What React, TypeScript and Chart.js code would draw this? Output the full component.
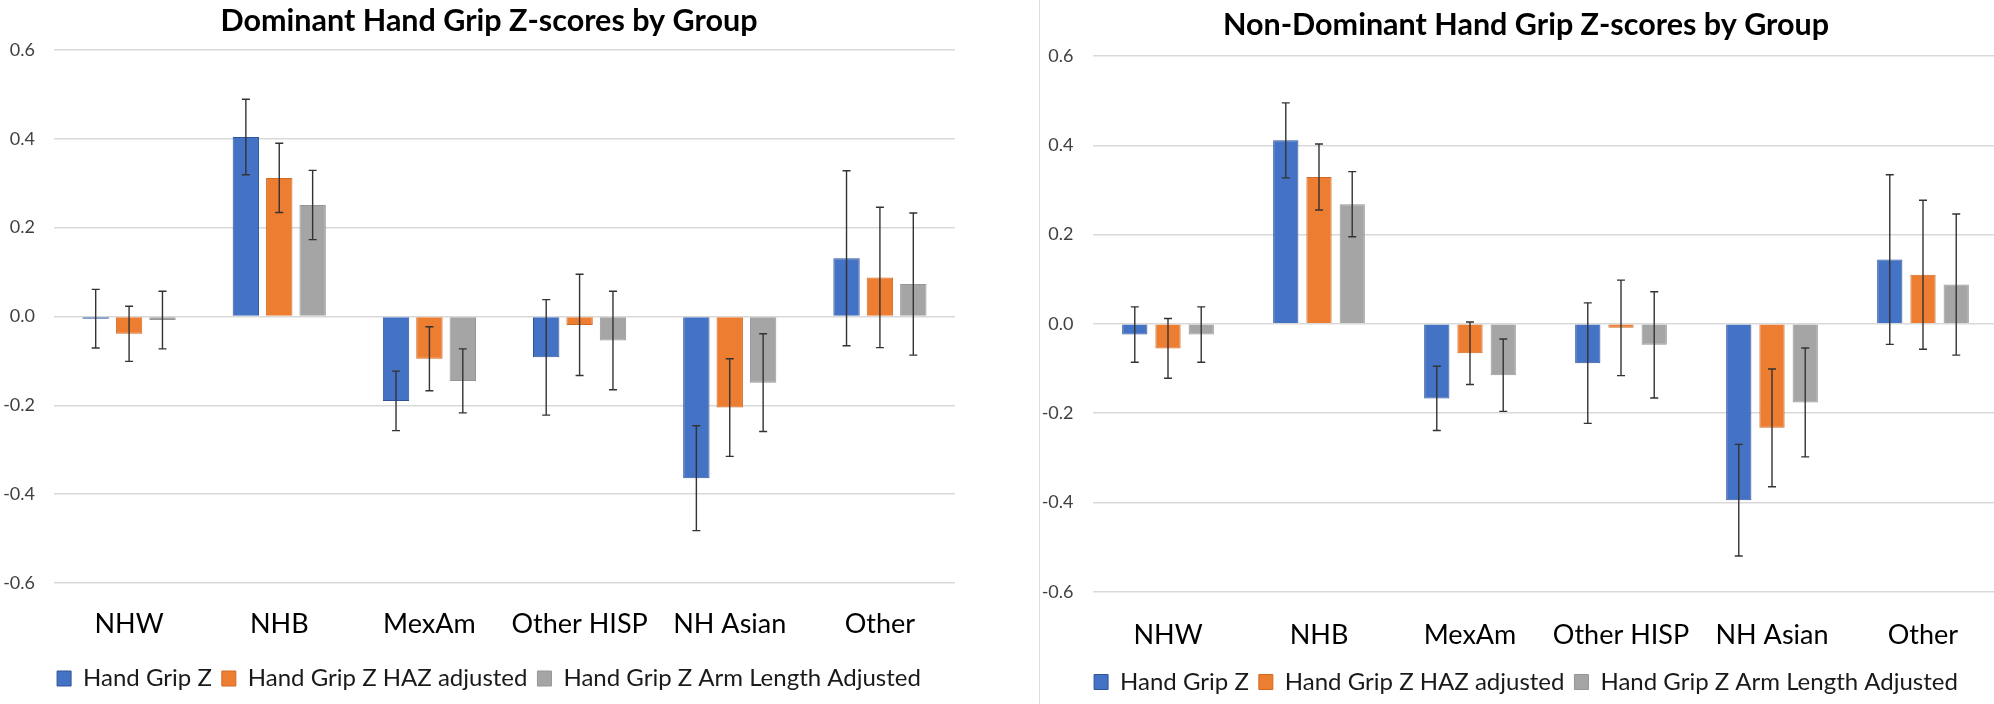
import React, { useEffect, useRef } from "react";
import { Chart, registerables } from "chart.js";

Chart.register(...registerables);

// ---------- data ----------
const categories = ["NHW", "NHB", "MexAm", "Other HISP", "NH Asian", "Other"];
const seriesLabels = ["Hand Grip Z", "Hand Grip Z HAZ adjusted", "Hand Grip Z Arm Length Adjusted"];
const yTicks = [-0.6, -0.4, -0.2, 0, 0.2, 0.4, 0.6];

// Dominant hand
const domGrip = [-0.005, 0.404, -0.19, -0.092, -0.364, 0.131];
const domGripErr = [0.066, 0.085, 0.067, 0.13, 0.118, 0.197];
const domHaz = [-0.039, 0.312, -0.095, -0.019, -0.205, 0.088];
const domHazErr = [0.062, 0.078, 0.072, 0.114, 0.11, 0.158];
const domArm = [-0.008, 0.251, -0.145, -0.054, -0.149, 0.073];
const domArmErr = [0.065, 0.078, 0.072, 0.111, 0.11, 0.16];

// Non-dominant hand
const ndGrip = [-0.024, 0.411, -0.167, -0.088, -0.395, 0.144];
const ndGripErr = [0.062, 0.084, 0.072, 0.135, 0.125, 0.19];
const ndHaz = [-0.055, 0.329, -0.066, -0.009, -0.233, 0.11];
const ndHazErr = [0.067, 0.074, 0.07, 0.107, 0.132, 0.167];
const ndArm = [-0.024, 0.268, -0.115, -0.047, -0.176, 0.088];
const ndArmErr = [0.062, 0.073, 0.081, 0.119, 0.122, 0.158];

// ---------- styles ----------
const seriesColors = ["#4472C4", "#ED7D31", "#A5A5A5"];
const seriesBorders = ["#2F5597", "#D06A22", "#969696"];
const FONT = "Lato";
Chart.defaults.font.family = FONT;

const errorBarPlugin = {
  id: "errorBars",
  afterDatasetsDraw(chart: any) {
    const ctx = chart.ctx;
    const yScale = chart.scales.y;
    chart.data.datasets.forEach((ds: any, i: number) => {
      const meta = chart.getDatasetMeta(i);
      if (meta.hidden || !ds.errors) return;
      meta.data.forEach((bar: any, j: number) => {
        const v = ds.data[j];
        const e = ds.errors[j];
        const x = bar.x;
        const yTop = yScale.getPixelForValue(v + e);
        const yBot = yScale.getPixelForValue(v - e);
        ctx.save();
        ctx.strokeStyle = "#333333";
        ctx.lineWidth = 1.4;
        ctx.beginPath();
        ctx.moveTo(x, yTop);
        ctx.lineTo(x, yBot);
        ctx.moveTo(x - 4, yTop);
        ctx.lineTo(x + 4, yTop);
        ctx.moveTo(x - 4, yBot);
        ctx.lineTo(x + 4, yBot);
        ctx.stroke();
        ctx.restore();
      });
    });
  },
};

type Layout = {
  titlePadTop: number;
  titlePadBottom: number;
  yWidth: number;
  rightWidth: number;
  xHeight: number;
  xPad: number;
  bottomPad: number;
  catPct: number;
  barPct: number;
};

function makeConfig(title: string, values: number[][], errors: number[][], L: Layout): any {
  return {
    type: "bar",
    data: {
      labels: categories,
      datasets: values.map((vals, i) => ({
        label: seriesLabels[i],
        data: vals,
        errors: errors[i],
        backgroundColor: seriesColors[i],
        borderColor: seriesBorders[i],
        borderWidth: 1,
        categoryPercentage: L.catPct,
        barPercentage: L.barPct,
      })),
    },
    options: {
      responsive: false,
      animation: false,
      devicePixelRatio: 1,
      layout: { padding: { left: 0, right: 0, top: 0, bottom: L.bottomPad } },
      plugins: {
        title: {
          display: true,
          text: title,
          color: "#000000",
          font: { family: FONT, size: 30.5, weight: "bold" },
          padding: { top: L.titlePadTop, bottom: L.titlePadBottom },
        },
        legend: {
          display: true,
          position: "bottom",
          labels: {
            boxWidth: 14,
            boxHeight: 15,
            padding: 10,
            color: "#1a1a1a",
            font: { family: FONT, size: 24 },
          },
        },
        tooltip: { enabled: false },
      },
      scales: {
        x: {
          type: "category",
          grid: { display: false },
          border: { display: false },
          ticks: { color: "#000000", font: { family: FONT, size: 27 }, padding: L.xPad, maxRotation: 0 },
          afterFit: (s: any) => {
            s.height = L.xHeight;
          },
        },
        y: {
          type: "linear",
          min: -0.6,
          max: 0.6,
          grid: { color: "#D9D9D9", lineWidth: 1.5, drawTicks: false },
          border: { display: false },
          afterBuildTicks: (s: any) => {
            s.ticks = yTicks.map((v) => ({ value: v }));
          },
          ticks: {
            color: "#404040",
            font: { family: FONT, size: 18 },
            padding: 19,
            callback: (v: any) => (Math.abs(Number(v)) < 1e-9 ? "0.0" : Number(v).toFixed(1)),
          },
          afterFit: (s: any) => {
            s.width = L.yWidth;
          },
        },
        y2: {
          type: "linear",
          position: "right",
          display: true,
          grid: { display: false, drawTicks: false },
          border: { display: false },
          ticks: { display: false },
          afterFit: (s: any) => {
            s.width = L.rightWidth;
          },
        },
      },
    },
    plugins: [errorBarPlugin],
  };
}

function ChartBox({ left, width, config }: { left: number; width: number; config: any }) {
  const ref = useRef<HTMLCanvasElement | null>(null);
  useEffect(() => {
    if (!ref.current) return;
    const chart = new Chart(ref.current, config);
    return () => chart.destroy();
  }, []);
  return (
    <canvas
      ref={ref}
      width={width}
      height={704}
      style={{ position: "absolute", left, top: 0, width, height: 704 }}
    />
  );
}

const leftConfig = makeConfig(
  "Dominant Hand Grip Z-scores by Group",
  [domGrip, domHaz, domArm],
  [domGripErr, domHazErr, domArmErr],
  {
    titlePadTop: 2.7,
    titlePadBottom: 10.7,
    yWidth: 54,
    rightWidth: 23,
    xHeight: 73.5,
    xPad: 17.5,
    bottomPad: 3.5,
    catPct: 0.667,
    barPct: 0.79,
  }
);

const rightConfig = makeConfig(
  "Non-Dominant Hand Grip Z-scores by Group",
  [ndGrip, ndHaz, ndArm],
  [ndGripErr, ndHazErr, ndArmErr],
  {
    titlePadTop: 6.7,
    titlePadBottom: 12.7,
    yWidth: 52.5,
    rightWidth: 13.5,
    xHeight: 68.3,
    xPad: 19.5,
    bottomPad: 0,
    catPct: 0.66,
    barPct: 0.76,
  }
);

export default function App() {
  return (
    <div
      style={{
        position: "fixed",
        left: 0,
        top: 0,
        width: 1994,
        height: 704,
        overflow: "hidden",
        background: "#ffffff",
      }}
    >
      <ChartBox left={0} width={978} config={leftConfig} />
      <div style={{ position: "absolute", left: 1039, top: 0, width: 1, height: 704, background: "#DDDDDD" }} />
      <ChartBox left={1040} width={972} config={rightConfig} />
    </div>
  );
}
